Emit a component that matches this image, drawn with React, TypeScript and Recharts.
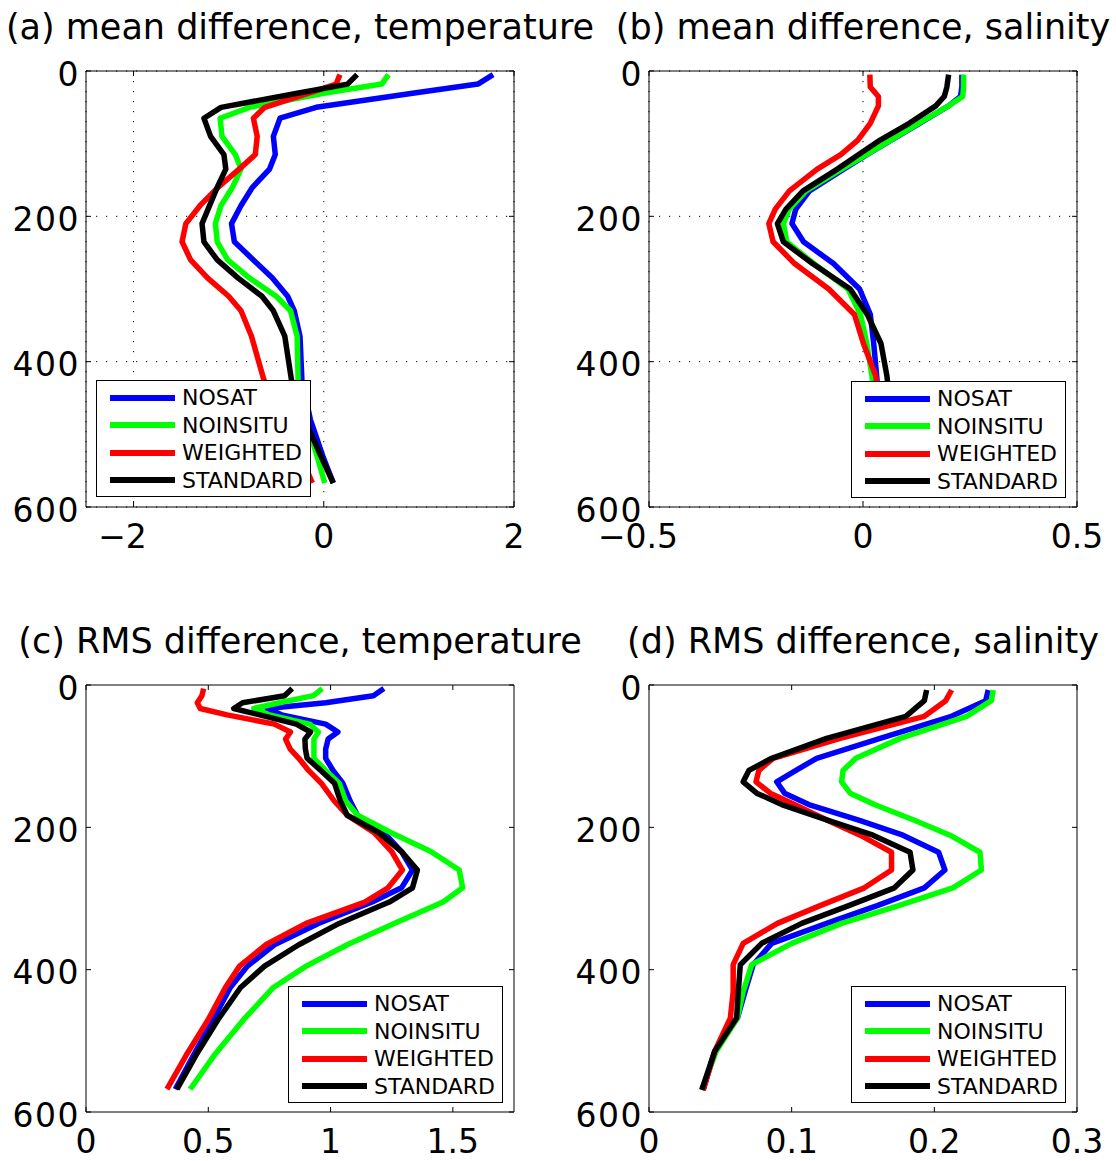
import React from 'react';
import { LineChart, Line, XAxis, YAxis, CartesianGrid } from 'recharts';

// four experiments, drawn in this order (STANDARD on top)
const SERIES = ['NOSAT', 'NOINSITU', 'WEIGHTED', 'STANDARD'];
const COLORS = ['#0000ff', '#00ff00', '#ff0000', '#000000'];

const depthTicks = [0, 200, 400, 600];

// (a) mean difference, temperature
const depthA = [5, 18, 30, 50, 65, 90, 115, 135, 160, 185, 210, 235, 260, 285, 310, 330, 365, 425, 480, 530, 567];
const nosatA = [1.78, 1.62, 0.97, -0.08, -0.46, -0.53, -0.51, -0.57, -0.75, -0.87, -0.97, -0.94, -0.74, -0.54, -0.38, -0.31, -0.25, -0.23, -0.14, -0.01, 0.1];
const noinsituA = [0.68, 0.61, 0.03, -0.78, -1.09, -1.07, -0.93, -0.87, -0.96, -1.08, -1.14, -1.12, -1.01, -0.78, -0.5, -0.35, -0.28, -0.27, -0.19, -0.07, 0.01];
const weightedA = [0.17, 0.13, -0.15, -0.62, -0.74, -0.7, -0.72, -0.89, -1.11, -1.3, -1.45, -1.49, -1.4, -1.22, -1.0, -0.87, -0.76, -0.63, -0.42, -0.24, -0.12];
const standardA = [0.35, 0.25, -0.25, -1.08, -1.26, -1.19, -1.05, -1.03, -1.12, -1.2, -1.28, -1.26, -1.12, -0.9, -0.65, -0.53, -0.41, -0.34, -0.2, -0.03, 0.1];
const ticksA = [-2, 0, 2];

// (b) mean difference, salinity
const depthB = [5, 22, 35, 48, 72, 95, 115, 135, 165, 190, 210, 235, 265, 300, 335, 375, 420, 480, 530, 567];
const nosatB = [0.231, 0.231, 0.228, 0.2, 0.132, 0.066, 0.009, -0.045, -0.125, -0.157, -0.166, -0.139, -0.069, -0.008, 0.017, 0.025, 0.032, 0.04, 0.046, 0.05];
const noinsituB = [0.235, 0.235, 0.233, 0.2, 0.13, 0.065, 0.008, -0.05, -0.133, -0.172, -0.186, -0.178, -0.115, -0.035, -0.006, 0.009, 0.021, 0.03, 0.036, 0.04];
const weightedB = [0.016, 0.017, 0.036, 0.036, 0.017, -0.012, -0.052, -0.107, -0.172, -0.205, -0.22, -0.21, -0.16, -0.08, -0.02, 0.001, 0.03, 0.04, 0.05, 0.055];
const standardB = [0.2, 0.196, 0.19, 0.17, 0.108, 0.04, -0.01, -0.06, -0.14, -0.18, -0.2, -0.186, -0.118, -0.03, 0.01, 0.042, 0.056, 0.066, 0.072, 0.076];
const ticksB = [-0.5, 0, 0.5];

// (c) RMS difference, temperature
const depthC = [5, 15, 25, 33, 42, 55, 66, 76, 90, 103, 120, 138, 163, 183, 208, 234, 260, 285, 305, 335, 365, 395, 425, 470, 520, 568];
const nosatC = [1.218, 1.175, 0.98, 0.74, 0.8, 0.98, 1.03, 0.99, 0.98, 0.98, 1.01, 1.05, 1.08, 1.11, 1.22, 1.29, 1.335, 1.29, 1.17, 0.95, 0.77, 0.66, 0.59, 0.52, 0.44, 0.365];
const noinsituC = [0.966, 0.93, 0.79, 0.686, 0.75, 0.915, 0.95, 0.932, 0.932, 0.932, 0.98, 1.035, 1.062, 1.11, 1.25, 1.41, 1.526, 1.54, 1.46, 1.26, 1.068, 0.9, 0.766, 0.645, 0.525, 0.426];
const weightedC = [0.481, 0.474, 0.455, 0.467, 0.577, 0.77, 0.836, 0.816, 0.835, 0.87, 0.91, 0.962, 1.015, 1.068, 1.18, 1.25, 1.294, 1.235, 1.14, 0.9, 0.735, 0.628, 0.57, 0.5, 0.41, 0.331];
const standardC = [0.843, 0.812, 0.64, 0.604, 0.71, 0.86, 0.918, 0.895, 0.897, 0.904, 0.96, 1.016, 1.04, 1.068, 1.2, 1.29, 1.355, 1.335, 1.24, 1.035, 0.87, 0.73, 0.632, 0.54, 0.45, 0.372];
const ticksC = [0, 0.5, 1, 1.5];

// (d) RMS difference, salinity
const depthD = [7, 22, 44, 75, 103, 120, 136, 152, 168, 190, 211, 235, 260, 285, 310, 335, 363, 393, 431, 468, 515, 569];
const nosatD = [0.2378, 0.236, 0.212, 0.162, 0.1175, 0.103, 0.0895, 0.095, 0.112, 0.147, 0.178, 0.203, 0.2074, 0.193, 0.16, 0.1245, 0.086, 0.073, 0.0673, 0.062, 0.046, 0.038];
const noinsituD = [0.2413, 0.24, 0.2226, 0.176, 0.145, 0.136, 0.135, 0.141, 0.158, 0.186, 0.211, 0.232, 0.233, 0.213, 0.175, 0.135, 0.1, 0.072, 0.066, 0.062, 0.047, 0.037];
const weightedD = [0.2121, 0.208, 0.193, 0.134, 0.087, 0.077, 0.075, 0.085, 0.102, 0.125, 0.148, 0.17, 0.17, 0.151, 0.12, 0.09, 0.066, 0.059, 0.059, 0.057, 0.046, 0.038];
const standardD = [0.1946, 0.193, 0.18, 0.1245, 0.086, 0.07, 0.066, 0.0755, 0.093, 0.125, 0.157, 0.183, 0.185, 0.172, 0.14, 0.107, 0.079, 0.064, 0.0626, 0.0614, 0.046, 0.037];
const ticksD = [0, 0.1, 0.2, 0.3];

const FONT = '"DejaVu Sans", sans-serif';
const TICK_LEN = 5;

function fmt(v: number) {
  return v < 0 ? '\u2212' + String(-v) : String(v);
}

const BottomTick = (props: any) => {
  const { x, y, payload } = props;
  const v = payload.value;
  return (
    <g>
      <line x1={x} x2={x} y1={y} y2={y - TICK_LEN} stroke="#000" />
      <text x={x + (v < 0 ? -11 : 0)} y={y + 41} textAnchor="middle" fontSize={33} fontFamily={FONT} fill="#000">
        {fmt(v)}
      </text>
    </g>
  );
};

const TopTick = (props: any) => {
  const { x, y } = props;
  return <line x1={x} x2={x} y1={y} y2={y + TICK_LEN} stroke="#000" />;
};

const LeftTick = (props: any) => {
  const { x, y, payload } = props;
  return (
    <g>
      <line x1={x} x2={x + TICK_LEN} y1={y} y2={y} stroke="#000" />
      <text x={x - 6} y={y + 14.5} textAnchor="end" fontSize={33} fontFamily={FONT} fill="#000" letterSpacing={1.5}>
        {payload.value}
      </text>
    </g>
  );
};

const RightTick = (props: any) => {
  const { x, y } = props;
  return <line x1={x} x2={x - TICK_LEN} y1={y} y2={y} stroke="#000" />;
};

type PanelProps = {
  title: string;
  left: number;
  top: number;
  width: number;
  height: number;
  plotLeft: number;
  plotRight: number;
  plotTop: number;
  plotBottom: number;
  domain: [number, number];
  ticks: number[];
  depth: number[];
  values: number[][];
  grid: boolean;
  legendLeft: number;
  legendTop: number;
};

function Panel(p: PanelProps) {
  const rows = p.depth.map((d, i) => {
    const row: Record<string, number> = { depth: d };
    SERIES.forEach((s, k) => {
      row[s] = p.values[k][i];
    });
    return row;
  });

  const yAxisW = p.plotLeft - p.left;
  const bottomH = p.top + p.height - p.plotBottom - 4;
  const margin = {
    top: p.plotTop - p.top - 1,
    right: p.left + p.width - p.plotRight - 1,
    bottom: 4,
    left: 0,
  };
  const titleX = (p.plotLeft + p.plotRight) / 2 - p.left;

  return (
    <div style={{ position: 'absolute', left: p.left, top: p.top, width: p.width, height: p.height }}>
      <svg
        width={p.width}
        height={p.height}
        style={{ position: 'absolute', left: 0, top: 0, overflow: 'visible' }}
      >
        <text x={titleX} y={p.plotTop - p.top - 32} textAnchor="middle" fontSize={35} fontFamily={FONT} fill="#000">
          {p.title}
        </text>
      </svg>
      <div style={{ position: 'absolute', left: 0, top: 0 }}>
        <LineChart width={p.width} height={p.height} data={rows} layout="vertical" margin={margin}>
          {p.grid && (
            <CartesianGrid xAxisId="bottom" yAxisId="left" stroke="#000" strokeDasharray="1.2 8.8" />
          )}
          <XAxis
            xAxisId="bottom"
            orientation="bottom"
            type="number"
            domain={p.domain}
            ticks={p.ticks}
            allowDataOverflow
            interval={0}
            height={bottomH}
            tickSize={0}
            tickMargin={0}
            tick={BottomTick}
            axisLine={{ stroke: '#000', strokeWidth: 1 }}
          />
          <XAxis
            xAxisId="top"
            orientation="top"
            type="number"
            domain={p.domain}
            ticks={p.ticks}
            allowDataOverflow
            interval={0}
            height={1}
            tickSize={0}
            tickMargin={0}
            tick={TopTick}
            axisLine={{ stroke: '#000', strokeWidth: 1 }}
          />
          <YAxis
            yAxisId="left"
            orientation="left"
            type="number"
            dataKey="depth"
            domain={[0, 600]}
            ticks={depthTicks}
            allowDataOverflow
            interval={0}
            width={yAxisW}
            tickSize={0}
            tickMargin={0}
            tick={LeftTick}
            axisLine={{ stroke: '#000', strokeWidth: 1 }}
          />
          <YAxis
            yAxisId="right"
            orientation="right"
            type="number"
            dataKey="depth"
            domain={[0, 600]}
            ticks={depthTicks}
            allowDataOverflow
            interval={0}
            width={1}
            tickSize={0}
            tickMargin={0}
            tick={RightTick}
            axisLine={{ stroke: '#000', strokeWidth: 1 }}
          />
          {SERIES.map((s, k) => (
            <Line
              key={s}
              xAxisId="bottom"
              yAxisId="left"
              type="linear"
              dataKey={s}
              stroke={COLORS[k]}
              strokeWidth={5.5}
              strokeLinejoin="round"
              dot={false}
              activeDot={false}
              isAnimationActive={false}
            />
          ))}
        </LineChart>
      </div>
      <Legend left={p.legendLeft - p.left} top={p.legendTop - p.top} />
    </div>
  );
}

function Legend({ left, top }: { left: number; top: number }) {
  return (
    <div
      style={{
        position: 'absolute',
        left,
        top,
        width: 215,
        height: 117,
        boxSizing: 'border-box',
        border: '1.5px solid #000',
        background: '#fff',
      }}
    >
      {SERIES.map((s, k) => (
        <div
          key={s}
          style={{
            position: 'absolute',
            left: 0,
            top: 3 + k * 27.5,
            height: 27.5,
            display: 'flex',
            alignItems: 'center',
          }}
        >
          <span style={{ display: 'inline-block', marginLeft: 13, width: 65, height: 6, background: COLORS[k] }} />
          <span
            style={{
              marginLeft: 7,
              fontFamily: FONT,
              fontSize: 22,
              lineHeight: '27.5px',
              color: '#000',
              whiteSpace: 'nowrap',
            }}
          >
            {s}
          </span>
        </div>
      ))}
    </div>
  );
}

export default function App() {
  return (
    <div style={{ position: 'absolute', left: 0, top: 0, width: 1116, height: 1161, background: '#fff' }}>
      <Panel
        title="(a) mean difference, temperature"
        left={0}
        top={0}
        width={560}
        height={580}
        plotLeft={86}
        plotRight={514}
        plotTop={71}
        plotBottom={507}
        domain={[-2.5, 2]}
        ticks={ticksA}
        depth={depthA}
        values={[nosatA, noinsituA, weightedA, standardA]}
        grid
        legendLeft={96}
        legendTop={380}
      />
      <Panel
        title="(b) mean difference, salinity"
        left={560}
        top={0}
        width={556}
        height={580}
        plotLeft={649}
        plotRight={1077}
        plotTop={71}
        plotBottom={507}
        domain={[-0.5, 0.5]}
        ticks={ticksB}
        depth={depthB}
        values={[nosatB, noinsituB, weightedB, standardB]}
        grid
        legendLeft={851}
        legendTop={381}
      />
      <Panel
        title="(c) RMS difference, temperature"
        left={0}
        top={600}
        width={560}
        height={561}
        plotLeft={86}
        plotRight={514}
        plotTop={685}
        plotBottom={1112}
        domain={[0, 1.75]}
        ticks={ticksC}
        depth={depthC}
        values={[nosatC, noinsituC, weightedC, standardC]}
        grid={false}
        legendLeft={288}
        legendTop={986}
      />
      <Panel
        title="(d) RMS difference, salinity"
        left={560}
        top={600}
        width={556}
        height={561}
        plotLeft={649}
        plotRight={1077}
        plotTop={685}
        plotBottom={1112}
        domain={[0, 0.3]}
        ticks={ticksD}
        depth={depthD}
        values={[nosatD, noinsituD, weightedD, standardD]}
        grid={false}
        legendLeft={851}
        legendTop={986}
      />
    </div>
  );
}
